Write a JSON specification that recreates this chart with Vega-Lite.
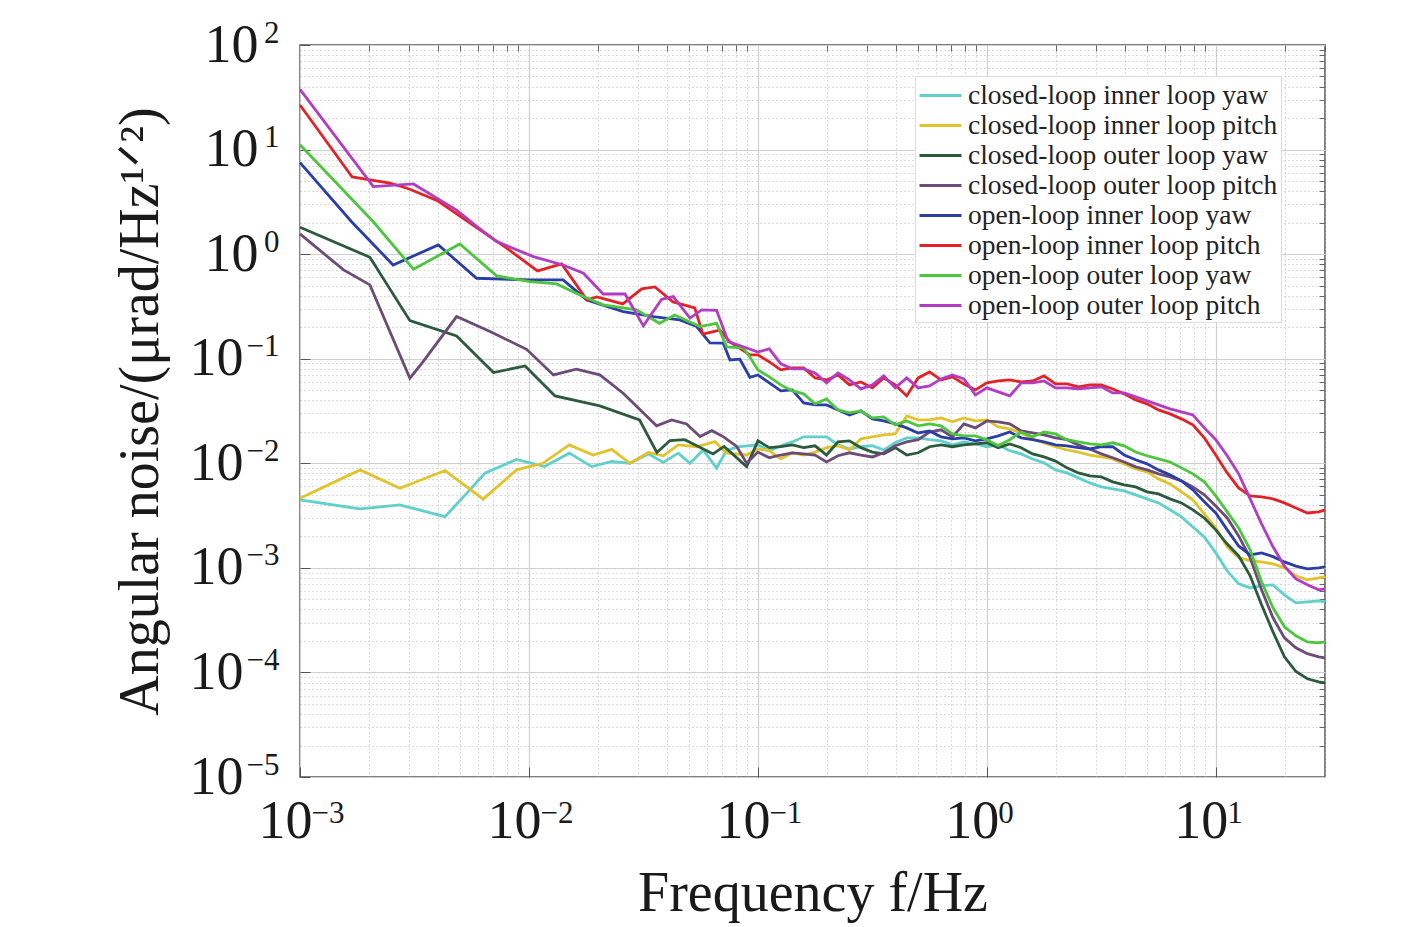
{
  "$schema": "https://vega.github.io/schema/vega-lite/v6.json",
  "width": 1025,
  "height": 732,
  "autosize": {"type": "none"},
  "padding": {"left": 300, "top": 45, "right": 92, "bottom": 150},
  "background": "white",
  "datasets": {
    "cy": [
      {"f":0.001,"v":0.00447},{"f":0.00183,"v":0.00366},{"f":0.00273,"v":0.004},{"f":0.0043,"v":0.00309},{"f":0.00552,"v":0.00557},{"f":0.00642,"v":0.00804},{"f":0.00883,"v":0.0109},{"f":0.0117,"v":0.0093},{"f":0.015,"v":0.0125},{"f":0.0188,"v":0.0093},{"f":0.023,"v":0.0104},{"f":0.0276,"v":0.01},{"f":0.0332,"v":0.0123},{"f":0.0386,"v":0.0102},{"f":0.0449,"v":0.0125},{"f":0.0505,"v":0.01},{"f":0.0577,"v":0.0134},{"f":0.066,"v":0.00898},{"f":0.0731,"v":0.0134},{"f":0.0834,"v":0.0144},
      {"f":0.1,"v":0.015},{"f":0.1122,"v":0.0132},{"f":0.1259,"v":0.0147},{"f":0.1413,"v":0.016},{"f":0.1585,"v":0.0179},{"f":0.1778,"v":0.0179},{"f":0.1995,"v":0.0179},{"f":0.2239,"v":0.015},{"f":0.2512,"v":0.0137},{"f":0.2818,"v":0.0144},{"f":0.3162,"v":0.0147},{"f":0.3548,"v":0.0134},{"f":0.3981,"v":0.0157},{"f":0.4467,"v":0.0175},{"f":0.5012,"v":0.0175},{"f":0.5623,"v":0.0168},{"f":0.631,"v":0.0164},{"f":0.7079,"v":0.015},{"f":0.7943,"v":0.016},{"f":0.8913,"v":0.0153},{"f":1,"v":0.0144},{"f":1.122,"v":0.015},{"f":1.259,"v":0.0132},{"f":1.413,"v":0.0123},{"f":1.585,"v":0.011},{"f":1.778,"v":0.0101},{"f":1.995,"v":0.00865},{"f":2.239,"v":0.00809},{"f":2.512,"v":0.00725},{"f":2.818,"v":0.00649},{"f":3.162,"v":0.00595},{"f":3.548,"v":0.00569},{"f":3.981,"v":0.00544},{"f":4.467,"v":0.00499},{"f":5.012,"v":0.00457},{"f":5.623,"v":0.00418},{"f":6.31,"v":0.00359},{"f":7.079,"v":0.00307},{"f":7.943,"v":0.00246},{"f":8.913,"v":0.00198},{"f":10,"v":0.00139},{"f":11.22,"v":0.000936},{"f":12.59,"v":0.000703},{"f":14.13,"v":0.000644},{"f":15.85,"v":0.000673},{"f":17.78,"v":0.000688},{"f":19.95,"v":0.000552},{"f":22.39,"v":0.000463},{"f":25.12,"v":0.000473},{"f":28.18,"v":0.000484},{"f":30,"v":0.000473}
    ],
    "ye": [
      {"f":0.001,"v":0.00464},{"f":0.00183,"v":0.00865},{"f":0.00273,"v":0.00578},{"f":0.0043,"v":0.00852},{"f":0.00631,"v":0.00454},{"f":0.00883,"v":0.00865},{"f":0.0115,"v":0.01},{"f":0.015,"v":0.015},{"f":0.0191,"v":0.012},{"f":0.023,"v":0.0136},{"f":0.0276,"v":0.01},{"f":0.0332,"v":0.0127},{"f":0.0386,"v":0.0118},{"f":0.0449,"v":0.015},{"f":0.054,"v":0.0144},{"f":0.0649,"v":0.0161},{"f":0.073,"v":0.0125},{"f":0.0893,"v":0.012},
      {"f":0.1,"v":0.0137},{"f":0.1122,"v":0.0132},{"f":0.1259,"v":0.011},{"f":0.1413,"v":0.0126},{"f":0.1585,"v":0.012},{"f":0.1778,"v":0.0128},{"f":0.1995,"v":0.0141},{"f":0.2239,"v":0.0147},{"f":0.2512,"v":0.0134},{"f":0.2818,"v":0.0171},{"f":0.3162,"v":0.0179},{"f":0.3548,"v":0.0187},{"f":0.3981,"v":0.0191},{"f":0.4467,"v":0.0284},{"f":0.5012,"v":0.026},{"f":0.5623,"v":0.026},{"f":0.631,"v":0.0272},{"f":0.7079,"v":0.0249},{"f":0.7943,"v":0.0272},{"f":0.8913,"v":0.0254},{"f":1,"v":0.026},{"f":1.122,"v":0.0223},{"f":1.259,"v":0.0213},{"f":1.413,"v":0.0195},{"f":1.585,"v":0.0171},{"f":1.778,"v":0.0157},{"f":1.995,"v":0.0144},{"f":2.239,"v":0.0134},{"f":2.512,"v":0.0128},{"f":2.818,"v":0.012},{"f":3.162,"v":0.0115},{"f":3.548,"v":0.011},{"f":3.981,"v":0.00987},{"f":4.467,"v":0.00884},{"f":5.012,"v":0.00828},{"f":5.623,"v":0.00709},{"f":6.31,"v":0.00635},{"f":7.079,"v":0.00533},{"f":7.943,"v":0.00447},{"f":8.913,"v":0.00328},{"f":10,"v":0.00241},{"f":11.22,"v":0.00159},{"f":12.59,"v":0.00125},{"f":14.13,"v":0.00117},{"f":15.85,"v":0.00114},{"f":17.78,"v":0.00109},{"f":19.95,"v":0.001},{"f":22.39,"v":0.000839},{"f":25.12,"v":0.000768},{"f":28.18,"v":0.000802},{"f":30,"v":0.00082}
    ],
    "dg": [
      {"f":0.001,"v":1.81},{"f":0.00202,"v":0.934},{"f":0.00302,"v":0.231},{"f":0.00483,"v":0.165},{"f":0.007,"v":0.0737},{"f":0.00962,"v":0.0853},{"f":0.013,"v":0.0441},{"f":0.0204,"v":0.0354},{"f":0.0304,"v":0.026},{"f":0.0362,"v":0.0127},{"f":0.0413,"v":0.0165},{"f":0.0479,"v":0.0168},{"f":0.0637,"v":0.0123},{"f":0.0712,"v":0.0145},{"f":0.0893,"v":0.0093},
      {"f":0.1,"v":0.0164},{"f":0.1122,"v":0.0141},{"f":0.1259,"v":0.0144},{"f":0.1413,"v":0.015},{"f":0.1585,"v":0.0141},{"f":0.1778,"v":0.0147},{"f":0.1995,"v":0.012},{"f":0.2239,"v":0.016},{"f":0.2512,"v":0.0164},{"f":0.2818,"v":0.0141},{"f":0.3162,"v":0.0128},{"f":0.3548,"v":0.0123},{"f":0.3981,"v":0.0141},{"f":0.4467,"v":0.012},{"f":0.5012,"v":0.0126},{"f":0.5623,"v":0.0144},{"f":0.631,"v":0.015},{"f":0.7079,"v":0.0144},{"f":0.7943,"v":0.015},{"f":0.8913,"v":0.0153},{"f":1,"v":0.0157},{"f":1.122,"v":0.0141},{"f":1.259,"v":0.0153},{"f":1.413,"v":0.0141},{"f":1.585,"v":0.0123},{"f":1.778,"v":0.0115},{"f":1.995,"v":0.0105},{"f":2.239,"v":0.00904},{"f":2.512,"v":0.00809},{"f":2.818,"v":0.00758},{"f":3.162,"v":0.00741},{"f":3.548,"v":0.00664},{"f":3.981,"v":0.00621},{"f":4.467,"v":0.00595},{"f":5.012,"v":0.00533},{"f":5.623,"v":0.0051},{"f":6.31,"v":0.00457},{"f":7.079,"v":0.00418},{"f":7.943,"v":0.00359},{"f":8.913,"v":0.003},{"f":10,"v":0.00231},{"f":11.22,"v":0.00169},{"f":12.59,"v":0.0013},{"f":14.13,"v":0.000839},{"f":15.85,"v":0.000443},{"f":17.78,"v":0.000244},{"f":19.95,"v":0.000141},{"f":22.39,"v":0.000102},{"f":25.12,"v":0.0000869},{"f":28.18,"v":0.0000813},{"f":30,"v":0.0000795}
    ],
    "pu": [
      {"f":0.001,"v":1.56},{"f":0.00155,"v":0.706},{"f":0.00202,"v":0.508},{"f":0.00302,"v":0.0651},{"f":0.00345,"v":0.0938},{"f":0.00483,"v":0.253},{"f":0.00676,"v":0.182},{"f":0.00977,"v":0.123},{"f":0.0128,"v":0.07},{"f":0.0161,"v":0.0794},{"f":0.0204,"v":0.07},{"f":0.0258,"v":0.0468},{"f":0.0361,"v":0.0228},{"f":0.042,"v":0.026},{"f":0.0488,"v":0.0238},{"f":0.0559,"v":0.018},{"f":0.0629,"v":0.0205},{"f":0.0706,"v":0.018},{"f":0.0808,"v":0.0145},{"f":0.0893,"v":0.01},
      {"f":0.1,"v":0.0128},{"f":0.1122,"v":0.0113},{"f":0.1259,"v":0.012},{"f":0.1413,"v":0.0126},{"f":0.1585,"v":0.0123},{"f":0.1778,"v":0.012},{"f":0.1995,"v":0.0103},{"f":0.2239,"v":0.0118},{"f":0.2512,"v":0.0126},{"f":0.2818,"v":0.012},{"f":0.3162,"v":0.0115},{"f":0.3548,"v":0.0126},{"f":0.3981,"v":0.0147},{"f":0.4467,"v":0.016},{"f":0.5012,"v":0.0168},{"f":0.5623,"v":0.0199},{"f":0.631,"v":0.0209},{"f":0.7079,"v":0.0179},{"f":0.7943,"v":0.0238},{"f":0.8913,"v":0.0218},{"f":1,"v":0.0254},{"f":1.122,"v":0.0249},{"f":1.259,"v":0.0238},{"f":1.413,"v":0.0204},{"f":1.585,"v":0.0195},{"f":1.778,"v":0.0187},{"f":1.995,"v":0.0175},{"f":2.239,"v":0.0168},{"f":2.512,"v":0.015},{"f":2.818,"v":0.0137},{"f":3.162,"v":0.0123},{"f":3.548,"v":0.0113},{"f":3.981,"v":0.0103},{"f":4.467,"v":0.00924},{"f":5.012,"v":0.00865},{"f":5.623,"v":0.00792},{"f":6.31,"v":0.00741},{"f":7.079,"v":0.00679},{"f":7.943,"v":0.00595},{"f":8.913,"v":0.00499},{"f":10,"v":0.00391},{"f":11.22,"v":0.003},{"f":12.59,"v":0.00202},{"f":14.13,"v":0.00125},{"f":15.85,"v":0.000616},{"f":17.78,"v":0.000333},{"f":19.95,"v":0.000214},{"f":22.39,"v":0.000172},{"f":25.12,"v":0.000151},{"f":28.18,"v":0.000141},{"f":30,"v":0.000138}
    ],
    "bl": [
      {"f":0.001,"v":7.49},{"f":0.00168,"v":2.04},{"f":0.00255,"v":0.788},{"f":0.00402,"v":1.224},{"f":0.00591,"v":0.588},{"f":0.0101,"v":0.567},{"f":0.0141,"v":0.567},{"f":0.0179,"v":0.365},{"f":0.0258,"v":0.282},{"f":0.0349,"v":0.253},{"f":0.0456,"v":0.235},{"f":0.054,"v":0.203},{"f":0.0617,"v":0.142},{"f":0.0706,"v":0.141},{"f":0.0755,"v":0.0974},{"f":0.0834,"v":0.0989},{"f":0.0923,"v":0.0665},
      {"f":0.1,"v":0.07},{"f":0.1122,"v":0.0587},{"f":0.1259,"v":0.0492},{"f":0.1413,"v":0.0503},{"f":0.1585,"v":0.0378},{"f":0.1778,"v":0.0362},{"f":0.1995,"v":0.0362},{"f":0.2239,"v":0.0324},{"f":0.2512,"v":0.029},{"f":0.2818,"v":0.0317},{"f":0.3162,"v":0.0266},{"f":0.3548,"v":0.0254},{"f":0.3981,"v":0.0238},{"f":0.4467,"v":0.0218},{"f":0.5012,"v":0.0195},{"f":0.5623,"v":0.0204},{"f":0.631,"v":0.0179},{"f":0.7079,"v":0.0171},{"f":0.7943,"v":0.0175},{"f":0.8913,"v":0.0164},{"f":1,"v":0.0171},{"f":1.122,"v":0.0183},{"f":1.259,"v":0.0199},{"f":1.413,"v":0.0175},{"f":1.585,"v":0.0168},{"f":1.778,"v":0.016},{"f":1.995,"v":0.015},{"f":2.239,"v":0.0147},{"f":2.512,"v":0.0141},{"f":2.818,"v":0.0137},{"f":3.162,"v":0.0144},{"f":3.548,"v":0.0144},{"f":3.981,"v":0.012},{"f":4.467,"v":0.0108},{"f":5.012,"v":0.00987},{"f":5.623,"v":0.00865},{"f":6.31,"v":0.00775},{"f":7.079,"v":0.00679},{"f":7.943,"v":0.00557},{"f":8.913,"v":0.00428},{"f":10,"v":0.00335},{"f":11.22,"v":0.00231},{"f":12.59,"v":0.00162},{"f":14.13,"v":0.00133},{"f":15.85,"v":0.00139},{"f":17.78,"v":0.00128},{"f":19.95,"v":0.00114},{"f":22.39,"v":0.00104},{"f":25.12,"v":0.000978},{"f":28.18,"v":0.001},{"f":30,"v":0.00102}
    ],
    "re": [
      {"f":0.001,"v":26.7},{"f":0.00169,"v":5.47},{"f":0.00247,"v":4.79},{"f":0.003,"v":4.2},{"f":0.00401,"v":3.22},{"f":0.00593,"v":1.78},{"f":0.008,"v":1.14},{"f":0.0109,"v":0.691},{"f":0.0139,"v":0.806},{"f":0.0179,"v":0.365},{"f":0.0198,"v":0.39},{"f":0.0257,"v":0.334},{"f":0.0311,"v":0.465},{"f":0.0355,"v":0.486},{"f":0.0426,"v":0.349},{"f":0.053,"v":0.306},{"f":0.0575,"v":0.172},{"f":0.0683,"v":0.188},{"f":0.0755,"v":0.145},{"f":0.0923,"v":0.109},
      {"f":0.1,"v":0.109},{"f":0.1122,"v":0.0932},{"f":0.1259,"v":0.0782},{"f":0.1413,"v":0.0817},{"f":0.1585,"v":0.0817},{"f":0.1778,"v":0.0655},{"f":0.1995,"v":0.0627},{"f":0.2239,"v":0.07},{"f":0.2512,"v":0.0562},{"f":0.2818,"v":0.06},{"f":0.3162,"v":0.0526},{"f":0.3548,"v":0.0655},{"f":0.3981,"v":0.0562},{"f":0.4467,"v":0.0441},{"f":0.5012,"v":0.0655},{"f":0.5623,"v":0.0748},{"f":0.631,"v":0.0627},{"f":0.7079,"v":0.067},{"f":0.7943,"v":0.0574},{"f":0.8913,"v":0.0503},{"f":1,"v":0.0587},{"f":1.122,"v":0.0613},{"f":1.259,"v":0.0627},{"f":1.413,"v":0.06},{"f":1.585,"v":0.0613},{"f":1.778,"v":0.0685},{"f":1.995,"v":0.0574},{"f":2.239,"v":0.0574},{"f":2.512,"v":0.0538},{"f":2.818,"v":0.0562},{"f":3.162,"v":0.0562},{"f":3.548,"v":0.0514},{"f":3.981,"v":0.0461},{"f":4.467,"v":0.0404},{"f":5.012,"v":0.037},{"f":5.623,"v":0.0324},{"f":6.31,"v":0.0297},{"f":7.079,"v":0.0266},{"f":7.943,"v":0.0233},{"f":8.913,"v":0.0175},{"f":10,"v":0.012},{"f":11.22,"v":0.00809},{"f":12.59,"v":0.00582},{"f":14.13,"v":0.00488},{"f":15.85,"v":0.00477},{"f":17.78,"v":0.00457},{"f":19.95,"v":0.00418},{"f":22.39,"v":0.00374},{"f":25.12,"v":0.00335},{"f":28.18,"v":0.00343},{"f":30,"v":0.00359}
    ],
    "gr": [
      {"f":0.001,"v":11.1},{"f":0.00209,"v":2.04},{"f":0.00313,"v":0.717},{"f":0.00499,"v":1.25},{"f":0.00723,"v":0.619},{"f":0.0101,"v":0.546},{"f":0.0132,"v":0.519},{"f":0.0167,"v":0.407},{"f":0.0211,"v":0.327},{"f":0.0295,"v":0.293},{"f":0.0372,"v":0.218},{"f":0.0433,"v":0.262},{"f":0.0558,"v":0.203},{"f":0.066,"v":0.218},{"f":0.0731,"v":0.13},{"f":0.0863,"v":0.127},{"f":0.0923,"v":0.104},
      {"f":0.1,"v":0.0782},{"f":0.1122,"v":0.067},{"f":0.1259,"v":0.0562},{"f":0.1413,"v":0.0492},{"f":0.1585,"v":0.0461},{"f":0.1778,"v":0.037},{"f":0.1995,"v":0.0413},{"f":0.2239,"v":0.0324},{"f":0.2512,"v":0.0303},{"f":0.2818,"v":0.0317},{"f":0.3162,"v":0.0272},{"f":0.3548,"v":0.0278},{"f":0.3981,"v":0.0233},{"f":0.4467,"v":0.0254},{"f":0.5012,"v":0.0228},{"f":0.5623,"v":0.0238},{"f":0.631,"v":0.0228},{"f":0.7079,"v":0.0191},{"f":0.7943,"v":0.0183},{"f":0.8913,"v":0.0183},{"f":1,"v":0.0168},{"f":1.122,"v":0.0147},{"f":1.259,"v":0.0168},{"f":1.413,"v":0.0199},{"f":1.585,"v":0.0179},{"f":1.778,"v":0.0199},{"f":1.995,"v":0.0191},{"f":2.239,"v":0.0168},{"f":2.512,"v":0.016},{"f":2.818,"v":0.0153},{"f":3.162,"v":0.015},{"f":3.548,"v":0.0157},{"f":3.981,"v":0.0147},{"f":4.467,"v":0.0128},{"f":5.012,"v":0.0118},{"f":5.623,"v":0.011},{"f":6.31,"v":0.0103},{"f":7.079,"v":0.00904},{"f":7.943,"v":0.00792},{"f":8.913,"v":0.00664},{"f":10,"v":0.00488},{"f":11.22,"v":0.00343},{"f":12.59,"v":0.00241},{"f":14.13,"v":0.00149},{"f":15.85,"v":0.000735},{"f":17.78,"v":0.000415},{"f":19.95,"v":0.000273},{"f":22.39,"v":0.000224},{"f":25.12,"v":0.000196},{"f":28.18,"v":0.000192},{"f":30,"v":0.000196}
    ],
    "ma": [
      {"f":0.001,"v":37.7},{"f":0.00209,"v":4.42},{"f":0.00313,"v":4.69},{"f":0.00396,"v":3.43},{"f":0.00483,"v":2.64},{"f":0.00591,"v":1.84},{"f":0.00723,"v":1.32},{"f":0.01045,"v":0.946},{"f":0.0141,"v":0.788},{"f":0.0173,"v":0.657},{"f":0.0211,"v":0.416},{"f":0.0263,"v":0.416},{"f":0.0316,"v":0.206},{"f":0.038,"v":0.37},{"f":0.0427,"v":0.392},{"f":0.0505,"v":0.244},{"f":0.0568,"v":0.293},{"f":0.066,"v":0.29},{"f":0.0742,"v":0.146},{"f":0.0863,"v":0.13},
      {"f":0.1,"v":0.116},{"f":0.1122,"v":0.124},{"f":0.1259,"v":0.0892},{"f":0.1413,"v":0.0799},{"f":0.1585,"v":0.0799},{"f":0.1778,"v":0.0731},{"f":0.1995,"v":0.0587},{"f":0.2239,"v":0.0731},{"f":0.2512,"v":0.0627},{"f":0.2818,"v":0.0514},{"f":0.3162,"v":0.0562},{"f":0.3548,"v":0.0685},{"f":0.3981,"v":0.0526},{"f":0.4467,"v":0.0655},{"f":0.5012,"v":0.0526},{"f":0.5623,"v":0.0549},{"f":0.631,"v":0.0641},{"f":0.7079,"v":0.07},{"f":0.7943,"v":0.0641},{"f":0.8913,"v":0.0451},{"f":1,"v":0.0526},{"f":1.122,"v":0.0482},{"f":1.259,"v":0.0441},{"f":1.413,"v":0.0587},{"f":1.585,"v":0.0587},{"f":1.778,"v":0.0613},{"f":1.995,"v":0.0526},{"f":2.239,"v":0.0526},{"f":2.512,"v":0.0514},{"f":2.818,"v":0.0526},{"f":3.162,"v":0.0538},{"f":3.548,"v":0.0471},{"f":3.981,"v":0.0471},{"f":4.467,"v":0.0431},{"f":5.012,"v":0.0395},{"f":5.623,"v":0.0362},{"f":6.31,"v":0.0331},{"f":7.079,"v":0.031},{"f":7.943,"v":0.029},{"f":8.913,"v":0.0218},{"f":10,"v":0.0168},{"f":11.22,"v":0.0118},{"f":12.59,"v":0.00792},{"f":14.13,"v":0.00457},{"f":15.85,"v":0.00263},{"f":17.78,"v":0.00159},{"f":19.95,"v":0.00104},{"f":22.39,"v":0.000785},{"f":25.12,"v":0.000688},{"f":28.18,"v":0.000616},{"f":30,"v":0.00063}
    ]
  },
  "layer": [
    {
      "data": {"name": "ma"},
      "mark": {"type": "line", "opacity": 0},
      "encoding": {
        "x": {
          "field": "f", "type": "quantitative",
          "scale": {"type": "log", "domain": [0.001, 30], "nice": false},
          "axis": {
            "orient": "top", "title": null, "labels": false, "domain": false,
            "values": [0.002,0.003,0.004,0.005,0.006,0.007,0.008,0.009,0.02,0.03,0.04,0.05,0.06,0.07,0.08,0.09,0.2,0.3,0.4,0.5,0.6,0.7,0.8,0.9,2,3,4,5,6,7,8,9,20,30],
            "grid": true, "gridColor": "#b8b8b8", "gridDash": [1, 3], "gridWidth": 1,
            "tickSize": -6, "tickColor": "#666"
          }
        },
        "y": {
          "field": "v", "type": "quantitative",
          "scale": {"type": "log", "domain": [0.00001, 100], "nice": false},
          "axis": {
            "orient": "right", "title": null, "labels": false, "domain": false,
            "values": [0.00002,0.00003,0.00004,0.00005,0.00006,0.00007,0.00008,0.00009,0.0002,0.0003,0.0004,0.0005,0.0006,0.0007,0.0008,0.0009,0.002,0.003,0.004,0.005,0.006,0.007,0.008,0.009,0.02,0.03,0.04,0.05,0.06,0.07,0.08,0.09,0.2,0.3,0.4,0.5,0.6,0.7,0.8,0.9,2,3,4,5,6,7,8,9,20,30,40,50,60,70,80,90],
            "grid": true, "gridColor": "#b8b8b8", "gridDash": [1, 3], "gridWidth": 1,
            "tickSize": -6, "tickColor": "#666"
          }
        }
      }
    },
    {
      "data": {"name": "ma"},
      "mark": {"type": "line", "opacity": 0},
      "encoding": {
        "x": {
          "field": "f", "type": "quantitative",
          "axis": {
            "orient": "bottom", "title": null, "domain": false, "ticks": false, "grid": false,
            "values": [0.001, 0.01, 0.1, 1, 10], "labelFlush": false, "labelOverlap": false,
            "labelExpr": "datum.value < 0.005 ? '−3' : datum.value < 0.05 ? '−2' : datum.value < 0.5 ? '−1' : datum.value < 5 ? '0' : '1'",
            "labelFontSize": 31, "labelAlign": "left", "labelBaseline": "alphabetic", "labelOffset": 11, "labelPadding": 45
          }
        },
        "y": {
          "field": "v", "type": "quantitative",
          "axis": {
            "orient": "left", "title": null, "domain": false,
            "values": [0.00001, 0.0001, 0.001, 0.01, 0.1, 1, 10, 100], "labelFlush": false, "labelOverlap": false,
            "labelExpr": "datum.value < 5e-5 ? '−5' : datum.value < 5e-4 ? '−4' : datum.value < 5e-3 ? '−3' : datum.value < 0.05 ? '−2' : datum.value < 0.5 ? '−1' : datum.value < 5 ? '0' : datum.value < 50 ? '1' : '2'",
            "labelFontSize": 31, "labelAlign": "right", "labelBaseline": "alphabetic", "labelOffset": -3,
            "grid": true, "gridColor": "#cfcfcf", "gridWidth": 1.2,
            "tickSize": -10, "tickColor": "#555", "labelPadding": 31
          }
        }
      }
    },
    {
      "data": {"name": "ma"},
      "mark": {"type": "line", "opacity": 0},
      "encoding": {
        "x": {"field": "f", "type": "quantitative", "axis": null},
        "y": {
          "field": "v", "type": "quantitative",
          "axis": {
            "orient": "left", "title": null, "domain": false, "ticks": false, "grid": false,
            "values": [1, 10, 100], "labelExpr": "'10'", "labelFlush": false, "labelOverlap": false,
            "labelPadding": 42
          }
        }
      }
    },
    {
      "encoding": {
        "x": {
          "field": "f", "type": "quantitative",
          "scale": {"type": "log", "domain": [0.001, 30], "nice": false},
          "axis": {
            "orient": "bottom", "title": "Frequency f/Hz", "domain": false,
            "values": [0.001, 0.01, 0.1, 1, 10],
            "labelExpr": "'10'", "labelFlush": false, "labelOffset": -15, "labelOverlap": false,
            "grid": true, "gridColor": "#cfcfcf", "gridWidth": 1.2,
            "tickSize": -10, "tickColor": "#555", "labelPadding": 27, "titlePadding": 18
          }
        },
        "y": {
          "field": "v", "type": "quantitative",
          "scale": {"type": "log", "domain": [0.00001, 100], "nice": false},
          "axis": {
            "orient": "left", "title": "Angular noise/(μrad/Hz¹ᐟ²)", "domain": false, "ticks": false, "grid": false,
            "values": [0.00001, 0.0001, 0.001, 0.01, 0.1],
            "labelExpr": "'10'", "labelFlush": false, "labelOverlap": false,
            "labelPadding": 57, "titlePadding": 20
          }
        }
      },
      "layer": [
        {"data": {"name": "cy"}, "mark": {"type": "line", "strokeWidth": 2.8}, "encoding": {"color": {"datum": "closed-loop inner loop yaw",
          "scale": {"domain": ["closed-loop inner loop yaw", "closed-loop inner loop pitch", "closed-loop outer loop yaw", "closed-loop outer loop pitch", "open-loop inner loop yaw", "open-loop inner loop pitch", "open-loop outer loop yaw", "open-loop outer loop pitch"],
                    "range": ["#5fd0cc", "#e2c32b", "#2b5a3c", "#6c4b76", "#2b3ea6", "#e32228", "#4cc63d", "#b23cc2"]},
          "legend": {"title": null, "orient": "none", "legendX": 615, "legendY": 31, "symbolType": "M-1,0H1.8", "symbolSize": 900, "symbolStrokeWidth": 3,
                     "labelFont": "Liberation Serif", "labelFontSize": 27.5, "labelColor": "#222", "labelLimit": 500, "labelOffset": 17,
                     "fillColor": "white", "strokeColor": "#dddddd", "padding": 3, "rowPadding": 0}}}},
        {"data": {"name": "ye"}, "mark": {"type": "line", "strokeWidth": 2.8}, "encoding": {"color": {"datum": "closed-loop inner loop pitch"}}},
        {"data": {"name": "dg"}, "mark": {"type": "line", "strokeWidth": 2.8}, "encoding": {"color": {"datum": "closed-loop outer loop yaw"}}},
        {"data": {"name": "pu"}, "mark": {"type": "line", "strokeWidth": 2.8}, "encoding": {"color": {"datum": "closed-loop outer loop pitch"}}},
        {"data": {"name": "bl"}, "mark": {"type": "line", "strokeWidth": 2.8}, "encoding": {"color": {"datum": "open-loop inner loop yaw"}}},
        {"data": {"name": "re"}, "mark": {"type": "line", "strokeWidth": 2.8}, "encoding": {"color": {"datum": "open-loop inner loop pitch"}}},
        {"data": {"name": "gr"}, "mark": {"type": "line", "strokeWidth": 2.8}, "encoding": {"color": {"datum": "open-loop outer loop yaw"}}},
        {"data": {"name": "ma"}, "mark": {"type": "line", "strokeWidth": 2.8}, "encoding": {"color": {"datum": "open-loop outer loop pitch"}}}
      ]
    }
  ],
  "resolve": {"axis": {"x": "independent", "y": "independent"}},
  "config": {
    "font": "Liberation Serif",
    "view": {"stroke": "#555", "strokeWidth": 1.5},
    "axis": {
      "labelFont": "Liberation Serif", "titleFont": "Liberation Serif",
      "labelFontSize": 54, "titleFontSize": 56, "titleFontWeight": "normal",
      "labelColor": "#1a1a1a", "titleColor": "#1a1a1a"
    }
  }
}
